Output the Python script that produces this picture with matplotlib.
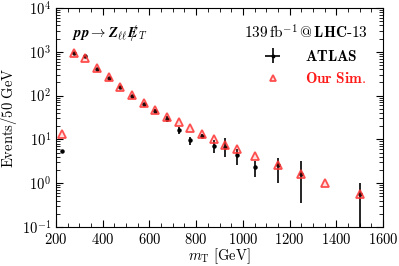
import numpy as np
import matplotlib
matplotlib.use("Agg")
import matplotlib.pyplot as plt

plt.rcParams['font.family'] = 'serif'
plt.rcParams['font.serif'] = ['cmr10']
plt.rcParams['mathtext.fontset'] = 'cm'
plt.rcParams['axes.formatter.use_mathtext'] = True
plt.rcParams['axes.unicode_minus'] = False

# ATLAS data
atlas_x = [225, 275, 325, 375, 425, 475, 525, 575, 625, 675, 725, 775, 825, 875, 925, 975, 1050, 1150, 1250, 1500]
atlas_y = [5.5, 950, 810, 400, 250, 155, 100, 65, 45, 29, 16, 9.5, 12, 7.2, 6.6, 4.4, 2.3, 2.6, 1.6, 0.57]
atlas_lo = [5.2, 900, 760, 385, 240, 149, 95, 61, 41, 25, 13, 7.5, 10.5, 4.9, 4.0, 2.6, 1.4, 1.0, 0.36, 0.1]
atlas_hi = [5.8, 1000, 860, 415, 260, 161, 105, 69, 49, 34, 19, 11.5, 13.5, 9.5, 10.5, 5.9, 3.2, 3.7, 3.2, 0.99]

# our simulation
sim_x = [225, 275, 325, 375, 425, 475, 525, 575, 625, 675, 725, 775, 825, 875, 925, 975, 1050, 1150, 1250, 1350, 1500]
sim_y = [13, 950, 720, 430, 270, 160, 105, 69, 48, 33, 24.5, 18, 13, 10, 7.3, 5.9, 4.1, 2.6, 1.6, 1.0, 0.57]

atlas_y = np.array(atlas_y)
yerr = [atlas_y - np.array(atlas_lo), np.array(atlas_hi) - atlas_y]

fig = plt.figure(figsize=(3.99, 2.66), dpi=100)
ax = fig.add_axes([0.1404, 0.1466, 0.8196, 0.8234])

eb = ax.errorbar(atlas_x, atlas_y, yerr=yerr, xerr=np.zeros(len(atlas_x)), fmt='o', color='black',
                 ms=2.2, elinewidth=1.2, capsize=0, zorder=2)
sim, = ax.plot(sim_x, sim_y, ls='none', marker='^', ms=5.5, mfc=(1, 0.2, 0.2, 0.15), mec=(1, 0.2, 0.2, 0.85),
               mew=1.3, zorder=3)

ax.set_yscale('log')
ax.set_xlim(200, 1600)
ax.set_ylim(0.1, 1e4)
ax.set_xticks(np.arange(200, 1601, 200))
ax.set_xticks(np.arange(200, 1601, 50), minor=True)
ax.tick_params(which='both', direction='in', top=True, right=True, labelsize=10.5)
ax.tick_params(which='major', length=5)
ax.tick_params(which='minor', length=3)
for s in ax.spines.values():
    s.set_linewidth(0.8)

ax.set_xlabel(r'$m_{\rm T}\ [\mathrm{GeV}]$', fontsize=10.5, labelpad=0)
ax.set_ylabel(r'$\mathrm{Events/50\ GeV}$', fontsize=10.5, labelpad=2)

ax.text(0.05, 0.93, r'$\mathbfit{pp}\rightarrow \mathbfit{Z}_{\ell\ell}\,/\!\!\!\!\mathbfit{E}_T$', transform=ax.transAxes,
        fontsize=10.5, va='top', ha='left')
ax.text(0.955, 0.93, r'$\mathbf{139}\,\mathrm{fb}^{-1}\,\mathbf{@\,LHC}$-$\mathbf{13}$', transform=ax.transAxes,
        fontsize=11, va='top', ha='right')

leg = ax.legend([eb, sim], [r'$\mathbf{ATLAS}$', r'$\mathbf{Our\ Sim.}$'], loc='upper right',
                bbox_to_anchor=(0.99, 0.875), frameon=False, fontsize=11,
                handletextpad=1.1, labelspacing=0.45, markerscale=0.8)
leg.get_texts()[1].set_color((1, 0.1, 0.1))

fig.savefig('out.png', dpi=100)
